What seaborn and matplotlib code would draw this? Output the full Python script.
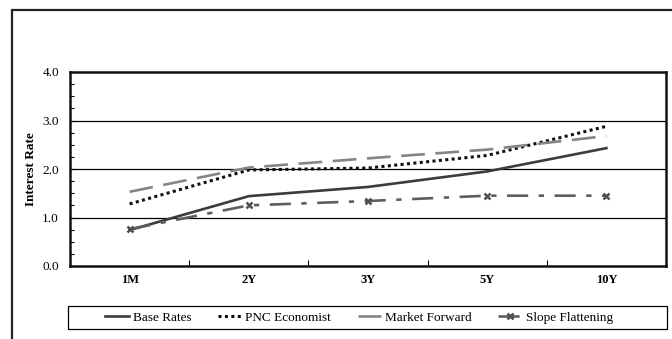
import pandas as pd
import numpy as np
import matplotlib
matplotlib.use("Agg")
import matplotlib.pyplot as plt
import matplotlib.patches as mpatches
import seaborn as sns

tenors = ["1M", "2Y", "3Y", "5Y", "10Y"]
base_rates = [0.74, 1.44, 1.63, 1.95, 2.43]
pnc_economist = [1.28, 1.98, 2.02, 2.28, 2.88]
market_forward = [1.53, 2.03, 2.22, 2.40, 2.68]
slope_flattening = [0.76, 1.25, 1.34, 1.45, 1.45]


def main():
	plt.rcParams['font.family'] = ['Liberation Serif', 'DejaVu Serif']

	fig = plt.figure(figsize=(6.72, 3.39), dpi=100)
	ax = fig.add_axes([70 / 672, 1 - 266 / 339, 596 / 672, 194 / 339])

	sns.lineplot(x=tenors, y=base_rates, ax=ax, sort=False, color='#3c3c3c',
		linewidth=1.9, label='Base Rates')
	sns.lineplot(x=tenors, y=pnc_economist, ax=ax, sort=False, color='#111111',
		linewidth=2.2, linestyle=(0, (1, 1.1)), dash_capstyle='butt', label='PNC Economist')
	sns.lineplot(x=tenors, y=market_forward, ax=ax, sort=False, color='#858585',
		linewidth=1.9, linestyle=(0, (9, 4)), dash_capstyle='butt', label='Market Forward')
	sns.lineplot(x=tenors, y=slope_flattening, ax=ax, sort=False, color='#5e5e5e',
		linewidth=1.9, linestyle=(0, (8, 4, 2, 4)), marker='x', markersize=5,
		markeredgewidth=1.8, markeredgecolor='#505050', label='Slope Flattening')

	ax.set_xlim(-0.5, 4.5)
	ax.set_ylim(0, 4)
	ax.set_yticks([0, 1, 2, 3, 4])
	ax.set_yticklabels(['0.0', '1.0', '2.0', '3.0', '4.0'], fontsize=9.5)
	ax.set_yticks(np.arange(0, 4.01, 0.25), minor=True)
	ax.tick_params(axis='y', which='both', direction='in', length=3, width=0.8, pad=8)
	ax.set_xticks(range(len(tenors)))
	ax.set_xticklabels(tenors, fontsize=9, fontweight='bold')
	ax.set_xticks([0.5, 1.5, 2.5, 3.5], minor=True)
	ax.tick_params(axis='x', which='major', length=0, pad=6)
	ax.tick_params(axis='x', which='minor', direction='in', length=4, width=0.8)
	ax.set_xlabel('')
	ax.set_ylabel('Interest Rate', fontsize=9.5, fontweight='bold', labelpad=4)

	for y in [1, 2, 3]:
		ax.axhline(y, color='black', linewidth=0.9, zorder=0)
	for s in ax.spines.values():
		s.set_linewidth(1.8)
		s.set_color('#111111')

	handles, labels = ax.get_legend_handles_labels()
	ax.get_legend().remove()
	fig.legend(handles, labels, loc='center left', ncol=4,
		bbox_to_anchor=(105 / 672, 1 - 317.5 / 339),
		fontsize=9.5, frameon=False, handlelength=1.8,
		borderaxespad=0, borderpad=0, handletextpad=0.3, columnspacing=2.0)

	# legend box
	fig.add_artist(mpatches.Rectangle((68 / 672, 1 - 329 / 339), 599 / 672, 23 / 339,
		transform=fig.transFigure, fill=False, edgecolor='black', linewidth=0.9))

	# outer frame (only top and left visible)
	fig.add_artist(mpatches.Rectangle((11.5 / 672, -0.2), 1.2, 1.2 - 9.5 / 339,
		transform=fig.transFigure, fill=False, edgecolor='#222222', linewidth=1.6))

	fig.savefig('out.png', dpi=100)


if __name__ == "__main__":
	main()
